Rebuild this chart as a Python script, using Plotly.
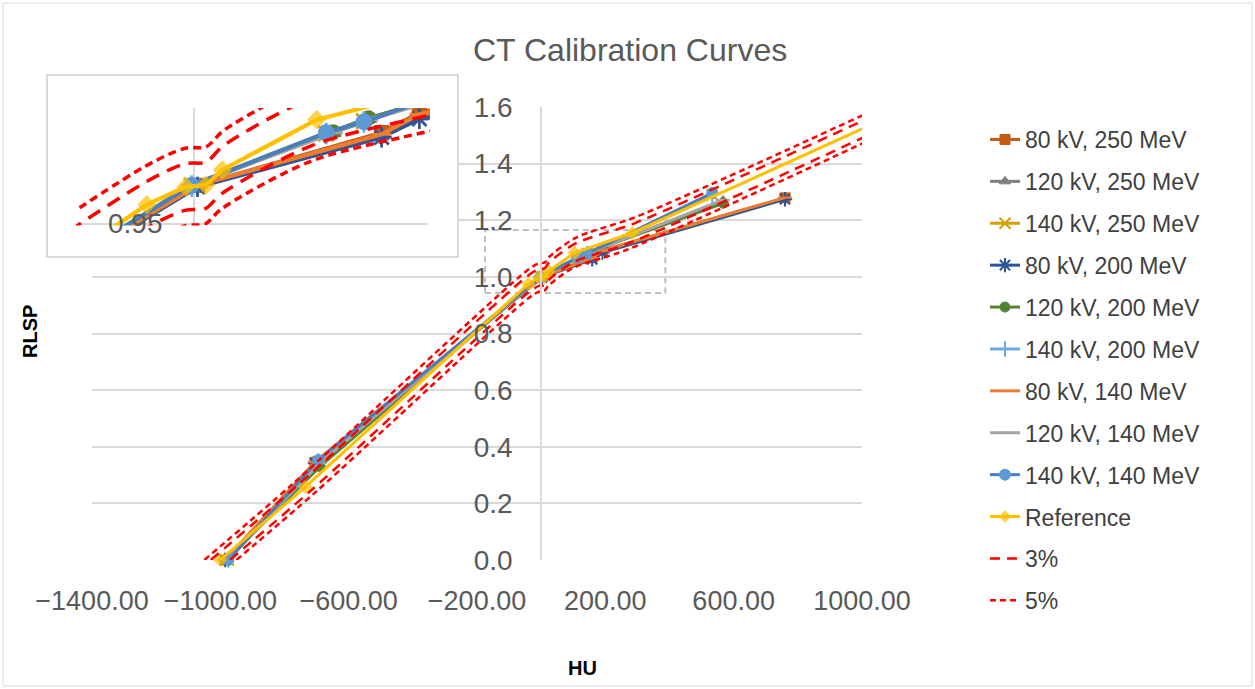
import plotly.graph_objects as go

W, H = 1255, 689

# ---------------- data ----------------
hu_80kv = [-985, -705, 3, 159, 191, 760]
hu_120kv = [-980, -690, -3, 118, 148, 567]
hu_140kv = [-975, -695, -2, 112, 144, 533]

rlsp_80kv_250 = [0.0, 0.345, 1.000, 1.068, 1.094, 1.279]
rlsp_120kv_250 = [0.0, 0.340, 1.000, 1.068, 1.086, 1.270]
rlsp_140kv_250 = [0.0, 0.348, 1.000, 1.067, 1.083, 1.290]
rlsp_80kv_200 = [0.0, 0.342, 0.998, 1.062, 1.086, 1.274]
rlsp_120kv_200 = [0.0, 0.330, 0.999, 1.069, 1.087, 1.260]
rlsp_140kv_200 = [0.0, 0.350, 0.999, 1.067, 1.082, 1.288]
rlsp_80kv_140 = [0.0, 0.347, 1.000, 1.066, 1.092, 1.280]
rlsp_120kv_140 = [0.0, 0.342, 1.000, 1.068, 1.085, 1.272]
rlsp_140kv_140 = [0.0, 0.353, 1.000, 1.068, 1.082, 1.296]

ref_hu = [-1000, -735, -40, -7, 10, 24, 104, 284, 1200]
ref_rlsp = [0.0, 0.258, 0.975, 0.998, 1.000, 1.020, 1.085, 1.155, 1.625]

band3_up_hu = [-1030, -757, -41.2, -7.2, 10.3, 24.7, 107.1, 292.5, 1236]
band3_up_rlsp = [0.0, 0.266, 1.004, 1.028, 1.030, 1.051, 1.118, 1.190, 1.674]
band3_lo_hu = [-970, -713, -38.8, -6.8, 9.7, 23.3, 100.9, 275.5, 1164]
band3_lo_rlsp = [0.0, 0.250, 0.946, 0.968, 0.970, 0.989, 1.052, 1.120, 1.576]
band5_up_hu = [-1050, -772, -42.0, -7.4, 10.5, 25.2, 109.2, 298.2, 1260]
band5_up_rlsp = [0.0, 0.271, 1.024, 1.048, 1.050, 1.071, 1.139, 1.213, 1.706]
band5_lo_hu = [-950, -698, -38.0, -6.7, 9.5, 22.8, 98.8, 269.8, 1140]
band5_lo_rlsp = [0.0, 0.245, 0.926, 0.948, 0.950, 0.969, 1.031, 1.097, 1.544]

series_names = ["80 kV, 250 MeV", "120 kV, 250 MeV", "140 kV, 250 MeV",
                "80 kV, 200 MeV", "120 kV, 200 MeV", "140 kV, 200 MeV",
                "80 kV, 140 MeV", "120 kV, 140 MeV", "140 kV, 140 MeV"]
series_hu = [hu_80kv, hu_120kv, hu_140kv, hu_80kv, hu_120kv, hu_140kv,
             hu_80kv, hu_120kv, hu_140kv]
series_rlsp = [rlsp_80kv_250, rlsp_120kv_250, rlsp_140kv_250,
               rlsp_80kv_200, rlsp_120kv_200, rlsp_140kv_200,
               rlsp_80kv_140, rlsp_120kv_140, rlsp_140kv_140]

x_range = [-1400, 1000]
y_range = [0, 1.6]
x_tick0, x_dtick = -1400, 400
y_dtick = 0.2
inset_x_range = [-100, 200]
inset_y_range = [0.95, 1.10]

# ---------------- styles ----------------
styles = [
    dict(line="#C55A11", symbol="square", mcolor="#C55A11", size=10),
    dict(line="#7F7F7F", symbol="triangle-up", mcolor="#7F7F7F", size=10),
    dict(line="#D4A000", symbol="x-thin-open", mcolor="#D4A000", size=11),
    dict(line="#2F5597", symbol="asterisk-open", mcolor="#2F5597", size=12),
    dict(line="#548235", symbol="circle", mcolor="#548235", size=10),
    dict(line="#6FA8DC", symbol="line-ns-open", mcolor="#6FA8DC", size=11),
    dict(line="#ED7D31", symbol="line-ew-open", mcolor="#ED7D31", size=10),
    dict(line="#A5A5A5", symbol="line-ew-open", mcolor="#A5A5A5", size=10),
    dict(line="#4A7EBB", symbol="circle", mcolor="#5B9BD5", size=11),
]
REF_COLOR = "#FFC000"
RED = "#FF0000"
GRID = "#D9D9D9"
TXT = "#595959"
FONT = "Liberation Sans"


def px2paper_x(p):
    return p / W


def px2paper_y(p):
    return 1 - p / H


# main plot area (pixels)
MX0, MX1, MY0, MY1 = 92, 862, 107, 560
# inset box and its plot area (pixels)
BX0, BX1, BY0, BY1 = 47, 458, 75, 257
IX0, IX1, IY0, IY1 = 76, 430, 108, 224

# inset axes ranges extended to the full box
sx = (IX1 - IX0) / (inset_x_range[1] - inset_x_range[0])
sy = (IY1 - IY0) / (inset_y_range[1] - inset_y_range[0])
x2_range = [inset_x_range[0] - (IX0 - BX0) / sx, inset_x_range[1] + (BX1 - IX1) / sx]
y2_range = [inset_y_range[0] - (BY1 - IY1) / sy, inset_y_range[1] + (IY0 - BY0) / sy]

fig = go.Figure()


def add_series(axis_suffix, scale, show):
    xa = "x" + axis_suffix
    ya = "y" + axis_suffix
    lw = 3 * scale
    for name, hu, rl, st in zip(series_names, series_hu, series_rlsp, styles):
        open_sym = st["symbol"].endswith("open")
        fig.add_trace(go.Scatter(
            x=hu, y=rl, name=name, legendgroup=name, showlegend=show,
            mode="lines+markers", xaxis=xa, yaxis=ya,
            line=dict(color=st["line"], width=lw),
            marker=dict(symbol=st["symbol"], size=st["size"] * scale,
                        color=st["mcolor"],
                        line=dict(color=st["mcolor"], width=(2 if open_sym else 1) * scale)),
            cliponaxis=(not show) if axis_suffix else False,
        ))
    sizes = [10 * scale] * (len(ref_hu) - 1) + [0]
    fig.add_trace(go.Scatter(
        x=ref_hu, y=ref_rlsp, name="Reference", legendgroup="Reference",
        showlegend=show, mode="lines+markers", xaxis=xa, yaxis=ya,
        line=dict(color=REF_COLOR, width=lw),
        marker=dict(symbol="diamond", size=sizes, color=REF_COLOR,
                    line=dict(color=REF_COLOR, width=1)),
        cliponaxis=False if not axis_suffix else True,
    ))
    d3 = "%dpx,%dpx" % (10 * scale, 7 * scale)
    d5 = "%dpx,%dpx" % (6 * scale, 4 * scale)
    for nm, hx, ry, dash, first in [
        ("3%", band3_up_hu, band3_up_rlsp, d3, True),
        ("3%", band3_lo_hu, band3_lo_rlsp, d3, False),
        ("5%", band5_up_hu, band5_up_rlsp, d5, True),
        ("5%", band5_lo_hu, band5_lo_rlsp, d5, False),
    ]:
        fig.add_trace(go.Scatter(
            x=hx, y=ry, name=nm, legendgroup=nm, showlegend=show and first,
            mode="lines", xaxis=xa, yaxis=ya,
            line=dict(color=RED, width=2.5 * scale, dash=dash, shape="spline",
                      smoothing=0.8),
        ))


add_series("", 1.0, True)
add_series("2", 1.4, False)

shapes = []
# outer chart border
shapes.append(dict(type="rect", xref="paper", yref="paper",
                   x0=px2paper_x(3), x1=px2paper_x(1252),
                   y0=px2paper_y(686), y1=px2paper_y(3),
                   line=dict(color=GRID, width=1), layer="below"))
# dashed zoom rectangle in main plot
shapes.append(dict(type="rect", xref="x", yref="y", x0=-175, x1=387, y0=0.943, y1=1.166,
                   line=dict(color="#BFBFBF", width=2, dash="6px,4px"), layer="below"))
# inset gridline and axis line
shapes.append(dict(type="line", xref="x2", yref="y2",
                   x0=inset_x_range[0], x1=inset_x_range[1] - 2, y0=0.95, y1=0.95,
                   line=dict(color=GRID, width=2), layer="below"))
shapes.append(dict(type="line", xref="x2", yref="y2", x0=0, x1=0,
                   y0=inset_y_range[0], y1=inset_y_range[1],
                   line=dict(color=GRID, width=2), layer="below"))
# masks around inset plot area
for (a, b, c, d) in [(BX0, IX0, BY0, BY1), (IX1, BX1, BY0, BY1),
                     (IX0, IX1, BY0, IY0), (IX0, IX1, IY1 + 1.5, BY1)]:
    shapes.append(dict(type="rect", xref="paper", yref="paper",
                       x0=px2paper_x(a), x1=px2paper_x(b),
                       y0=px2paper_y(d), y1=px2paper_y(c),
                       line=dict(width=0), fillcolor="white", layer="above"))
# inset border
shapes.append(dict(type="rect", xref="paper", yref="paper",
                   x0=px2paper_x(BX0), x1=px2paper_x(BX1),
                   y0=px2paper_y(BY1), y1=px2paper_y(BY0),
                   line=dict(color=GRID, width=2), fillcolor="rgba(0,0,0,0)", layer="above"))

annotations = [
    dict(text="CT Calibration Curves", x=px2paper_x(630), y=px2paper_y(50),
         xref="paper", yref="paper", showarrow=False, xanchor="center", yanchor="middle",
         font=dict(family=FONT, size=32, color=TXT)),
    dict(text="<b>HU</b>", x=px2paper_x(582), y=px2paper_y(668),
         xref="paper", yref="paper", showarrow=False, xanchor="center", yanchor="middle",
         font=dict(family=FONT, size=20, color="#000000")),
    dict(text="<b>RLSP</b>", x=px2paper_x(30), y=px2paper_y(332), textangle=-90,
         xref="paper", yref="paper", showarrow=False, xanchor="center", yanchor="middle",
         font=dict(family=FONT, size=20, color="#000000")),
    dict(text="0.95", x=px2paper_x(135), y=px2paper_y(223),
         xref="paper", yref="paper", showarrow=False, xanchor="center", yanchor="middle",
         font=dict(family=FONT, size=28, color=TXT)),
]

fig.update_layout(
    width=W, height=H, autosize=False,
    margin=dict(l=0, r=0, t=0, b=0, autoexpand=False),
    paper_bgcolor="white", plot_bgcolor="white",
    font=dict(family=FONT, color=TXT),
    showlegend=True,
    legend=dict(x=px2paper_x(985), y=px2paper_y(118), xanchor="left", yanchor="top",
                font=dict(family=FONT, size=23, color="#404040"),
                tracegroupgap=9, bgcolor="rgba(0,0,0,0)", traceorder="grouped"),
    xaxis=dict(domain=[px2paper_x(MX0), px2paper_x(MX1)], range=x_range,
               tick0=x_tick0, dtick=x_dtick, tickformat=".2f", tickangle=0,
               showgrid=False, zeroline=False, showline=False, ticks="",
               tickfont=dict(family=FONT, size=27, color=TXT), automargin=False,
               ticklabelstandoff=22, anchor="y"),
    yaxis=dict(domain=[px2paper_y(MY1), px2paper_y(MY0)], range=y_range,
               dtick=y_dtick, tick0=0, tickformat=".1f",
               showgrid=True, gridcolor=GRID, gridwidth=1.5, zeroline=False,
               showline=True, linecolor=GRID, linewidth=1.5, ticks="",
               tickfont=dict(family=FONT, size=28, color=TXT), automargin=False,
               anchor="free", position=px2paper_x(541), ticklabelstandoff=22),
    xaxis2=dict(domain=[px2paper_x(BX0), px2paper_x(BX1)], range=x2_range,
                showgrid=False, zeroline=False, showline=False, showticklabels=False,
                ticks="", anchor="y2", automargin=False),
    yaxis2=dict(domain=[px2paper_y(BY1), px2paper_y(BY0)], range=y2_range,
                showgrid=False, zeroline=False, showline=False, showticklabels=False,
                ticks="", anchor="x2", automargin=False),
    shapes=shapes,
    annotations=annotations,
)

fig.write_html("out.html", config={"displayModeBar": False},
               post_script="document.body.style.margin='0';")
